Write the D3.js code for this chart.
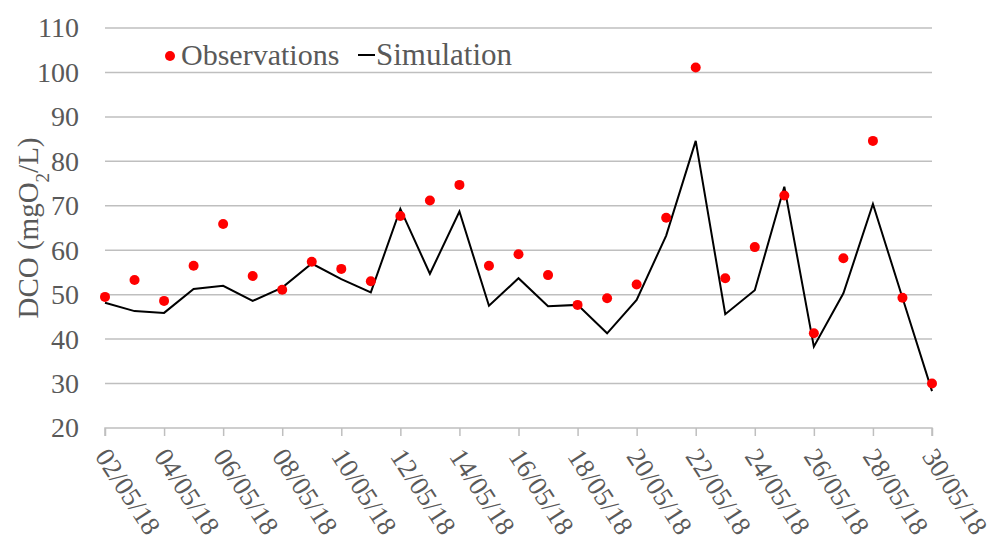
<!DOCTYPE html>
<html>
<head>
<meta charset="utf-8">
<script src="https://cdn.jsdelivr.net/npm/d3@7"></script>
<style>
  body { margin: 0; background: #fff; }
  text { font-family: "Liberation Serif", "Times New Roman", serif; fill: #595959; }
</style>
</head>
<body>
<div id="chart"></div>
<script>
// data
var dates = ["02/05/18","03/05/18","04/05/18","05/05/18","06/05/18","07/05/18","08/05/18","09/05/18",
  "10/05/18","11/05/18","12/05/18","13/05/18","14/05/18","15/05/18","16/05/18","17/05/18","18/05/18",
  "19/05/18","20/05/18","21/05/18","22/05/18","23/05/18","24/05/18","25/05/18","26/05/18","27/05/18",
  "28/05/18","29/05/18","30/05/18"];
var observations = [49.5, 53.3, 48.6, 56.5, 65.9, 54.2, 51.1, 57.4, 55.8, 53.0, 67.7, 71.2, 74.7, 56.5,
  59.1, 54.4, 47.7, 49.2, 52.3, 67.3, 101.1, 53.7, 60.7, 72.3, 41.3, 58.2, 84.6, 49.3, 30.0];
var simulation = [48.2, 46.3, 45.9, 51.3, 52.0, 48.6, 51.6, 57.0, 53.5, 50.5, 69.3, 54.7, 68.7, 47.5,
  53.7, 47.4, 47.7, 41.3, 48.8, 63.3, 84.6, 45.6, 51.0, 74.3, 38.3, 50.3, 70.4, 49.3, 28.3];
var yTicks = [20, 30, 40, 50, 60, 70, 80, 90, 100, 110];

var width = 993, height = 548;
var margin = {left: 105, right: 61, top: 28, bottom: 120};

var svg = d3.select("#chart").append("svg")
    .attr("width", width)
    .attr("height", height);

var x = d3.scalePoint()
    .domain(dates)
    .range([margin.left, width - margin.right]);

var y = d3.scaleLinear()
    .domain([20, 110])
    .range([height - margin.bottom, margin.top]);

// gridlines
svg.append("g")
  .selectAll("line")
  .data(yTicks.slice(1))
  .enter().append("line")
    .attr("x1", margin.left)
    .attr("x2", width - margin.right)
    .attr("y1", d => y(d))
    .attr("y2", d => y(d))
    .attr("stroke", "#bfbfbf")
    .attr("stroke-width", 1.5);

// y axis labels
var yAxis = d3.axisLeft(y).tickValues(yTicks).tickSize(0).tickPadding(26);
svg.append("g")
    .attr("transform", `translate(${margin.left},0)`)
    .call(yAxis)
    .call(g => g.select(".domain").remove())
    .selectAll("text")
    .style("font-size", "28px")
    .attr("fill", "#595959");

// x axis
var xTickDates = dates.filter((d, i) => i % 2 == 0);
var xAxis = d3.axisBottom(x).tickValues(xTickDates).tickSize(8).tickFormat("");
var xg = svg.append("g")
    .attr("transform", `translate(0,${y(20)})`)
    .call(xAxis);
xg.select(".domain").attr("stroke", "#bfbfbf").attr("stroke-width", 1.5)
    .attr("d", `M${margin.left},8V0H${width - margin.right}V8`);
xg.selectAll(".tick line").attr("stroke", "#bfbfbf").attr("stroke-width", 1.5);

svg.append("g")
  .selectAll("text")
  .data(xTickDates)
  .enter().append("text")
    .attr("transform", d => `translate(${x(d) + 5},${y(20) + 18}) rotate(57)`)
    .attr("dy", "0.7em")
    .style("font-size", "27px")
    .text(d => d);

// simulation line
var line = d3.line()
    .x((d, i) => x(dates[i]))
    .y(d => y(d));

svg.append("path")
    .datum(simulation)
    .attr("d", line)
    .attr("fill", "none")
    .attr("stroke", "#000")
    .attr("stroke-width", 2);

// observation dots
svg.append("g")
  .selectAll("circle")
  .data(observations)
  .enter().append("circle")
    .attr("cx", (d, i) => x(dates[i]))
    .attr("cy", d => y(d))
    .attr("r", 5)
    .attr("fill", "#ff0000");

// y title
svg.append("text")
    .attr("transform", "translate(38,228) rotate(-90)")
    .attr("text-anchor", "middle")
    .style("font-size", "29px")
    .html('DCO (mgO<tspan baseline-shift="sub" font-size="19px">2</tspan>/L)');

// legend
var legend = svg.append("g");
legend.append("circle")
    .attr("cx", 170).attr("cy", 56).attr("r", 5).attr("fill", "#ff0000");
legend.append("text")
    .attr("x", 181).attr("y", 65)
    .style("font-size", "30px")
    .text("Observations");
legend.append("line")
    .attr("x1", 358).attr("x2", 375).attr("y1", 55).attr("y2", 55)
    .attr("stroke", "#000").attr("stroke-width", 2);
legend.append("text")
    .attr("x", 376).attr("y", 65)
    .style("font-size", "31px")
    .text("Simulation");
</script>
</body>
</html>
